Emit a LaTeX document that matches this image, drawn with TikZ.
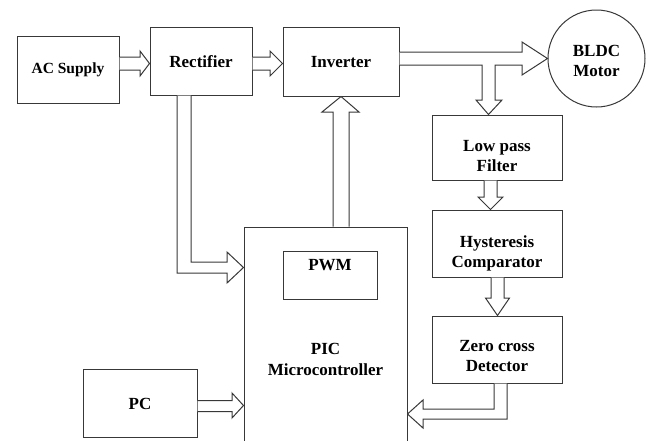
\documentclass[tikz,border=0pt]{standalone}
\usepackage{fontspec}
\setmainfont{Liberation Serif}
\usetikzlibrary{calc}
% lower a text block by half of #1 inside its node
\newcommand{\lowtext}[2]{\vbox{\vskip#1\hbox{\begin{tabular}{@{}c@{}}#2\end{tabular}}}}
\begin{document}
\begin{tikzpicture}[x=1pt,y=-1pt,line width=1pt,
  blk/.style={draw=black!78, inner sep=0pt,
    font=\fontsize{17}{20.5}\selectfont\bfseries},
  barrow/.style={draw=black!78, fill=white, line join=miter}]
\useasboundingbox (0,0) rectangle (649,440);
\clip (0,0) rectangle (649,440);
% blocks
\node[blk, minimum width=102pt, minimum height=67pt] (ac) at (68,69.5) {\fontsize{15.5}{18}\selectfont AC Supply};
\node[blk, minimum width=102pt, minimum height=68pt] (rect) at (201,61) {\lowtext{4pt}{Rectifier}};
\node[blk, minimum width=116pt, minimum height=69pt] (inv) at (341,61.5) {\lowtext{4pt}{Inverter}};
\node[blk, circle, minimum size=97pt] (motor) at (596.5,58.5) {\lowtext{8pt}{BLDC\\Motor}};
\node[blk, minimum width=130pt, minimum height=65pt] (lpf) at (497,147.5) {\lowtext{20pt}{Low pass\\Filter}};
\node[blk, minimum width=130pt, minimum height=67pt] (hyst) at (497,243.5) {\lowtext{20pt}{Hysteresis\\Comparator}};
\node[blk, minimum width=130pt, minimum height=67pt] (zc) at (497,349.5) {\lowtext{16pt}{Zero cross\\Detector}};
\node[blk, minimum width=163pt, minimum height=266pt] (pic) at (325.5,360) {\lowtext{2pt}{PIC\\Microcontroller}};
\node[blk, minimum width=94pt, minimum height=48pt, text height=12pt, text depth=22pt] (pwm) at (330,275) {PWM};
\node[blk, minimum width=114pt, minimum height=68pt] (pc) at (140,403) {\lowtext{4pt}{PC}};
% block arrows
\draw[barrow] (ac.east |- 0,57) -- (140,57) -- (140,51) -- (rect.west |- 0,63.5)
  -- (140,76) -- (140,70) -- (ac.east |- 0,70);
\draw[barrow] (rect.east |- 0,57) -- (270,57) -- (270,51) -- (inv.west |- 0,63.5)
  -- (270,76) -- (270,70) -- (rect.east |- 0,70);
\draw[barrow] (inv.east |- 0,52) -- (522,52) -- (522,42) -- (motor.west)
  -- (522,75) -- (522,65) -- (495,65) -- (495,100) -- (502,100)
  -- (488.5,0 |- lpf.north) -- (476,100) -- (482,100) -- (482,65)
  -- (inv.east |- 0,65);
\draw[barrow] (484,0 |- lpf.south) -- (484,197) -- (478,197) -- (490.5,0 |- hyst.north)
  -- (503,197) -- (497,197) -- (497,0 |- lpf.south);
\draw[barrow] (491,0 |- hyst.south) -- (491,298) -- (485.5,298) -- (497.5,0 |- zc.north)
  -- (509.5,298) -- (504,298) -- (504,0 |- hyst.south);
\draw[barrow] (507,0 |- zc.south) -- (507,419) -- (423,419) -- (423,428)
  -- (pic.east |- 0,414) -- (423,400) -- (423,409) -- (494,409) -- (494,0 |- zc.south);
\draw[barrow] (177,0 |- rect.south) -- (177,273) -- (227,273) -- (227,283)
  -- (pic.west |- 0,267.5) -- (227,252) -- (227,262) -- (191,262) -- (191,0 |- rect.south);
\draw[barrow] (333,0 |- pic.north) -- (333,112) -- (322,112) -- (341,0 |- inv.south)
  -- (359,112) -- (349,112) -- (349,0 |- pic.north);
\draw[barrow] (pc.east |- 0,400.5) -- (232,400.5) -- (232,393) -- (pic.west |- 0,405.5)
  -- (232,418) -- (232,411.5) -- (pc.east |- 0,411.5);
\end{tikzpicture}
\end{document}
